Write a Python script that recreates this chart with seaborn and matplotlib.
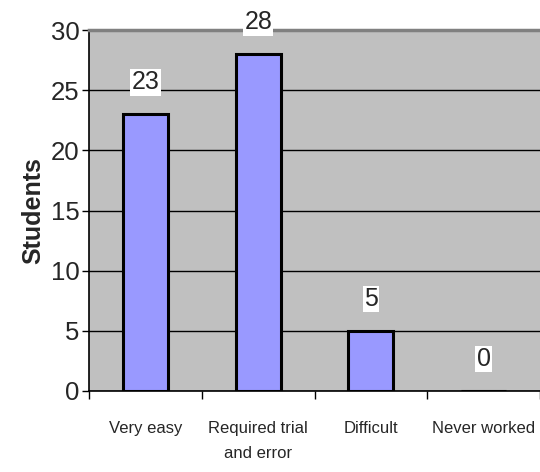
import matplotlib
matplotlib.use("Agg")
import matplotlib.pyplot as plt
import seaborn as sns
import pandas as pd

# chart data
categories = ["Very easy", "Required trial\nand error", "Difficult", "Never worked"]
students = [23, 28, 5, 0]
y_ticks = [0, 5, 10, 15, 20, 25, 30]

df = pd.DataFrame({"answer": categories, "students": students})

sns.set_style("white")
plt.rcParams["font.family"] = ["Liberation Sans", "DejaVu Sans"]

fig = plt.figure(figsize=(5.4, 4.72), dpi=100)
ax = fig.add_axes([0.165, 0.172, 0.835, 0.764])
ax.set_facecolor("#C0C0C0")

sns.barplot(data=df, x="answer", y="students", color="#9999FF",
            edgecolor="black", linewidth=2.2, width=0.4, saturation=1, ax=ax)

# value labels with white boxes
for i, v in enumerate(students):
    ax.annotate(str(v), (i, v), xytext=(0, 23), textcoords="offset points",
                ha="center", va="center", fontsize=18, clip_on=False,
                bbox=dict(boxstyle="square,pad=0.05", fc="white", ec="none"))

ax.set_ylim(0, 30)
ax.set_xlim(-0.5, 3.5)
ax.set_yticks(y_ticks)
ax.tick_params(axis="y", labelsize=18.5, length=5, width=1, color="black",
               direction="out", left=True, pad=2)
ax.yaxis.grid(True, color="black", linewidth=1)
ax.set_axisbelow(True)

# x ticks sit between categories
ax.set_xticks(range(len(categories)))
ax.set_xticklabels(categories, fontsize=12, linespacing=1.8)
ax.set_xticks([-0.5, 0.5, 1.5, 2.5, 3.5], minor=True)
ax.tick_params(axis="x", which="major", length=0, pad=22)
ax.tick_params(axis="x", which="minor", length=6, width=1, color="black",
               direction="out", bottom=True)

ax.set_xlabel("")
ax.set_ylabel("Students", fontsize=18, fontweight="bold", labelpad=4)

for s in ["left", "bottom"]:
    ax.spines[s].set_color("black")
    ax.spines[s].set_linewidth(1.2)
ax.spines["top"].set_color("#808080")
ax.spines["top"].set_linewidth(2.5)
ax.spines["right"].set_visible(False)

fig.savefig("out.png", dpi=100)
